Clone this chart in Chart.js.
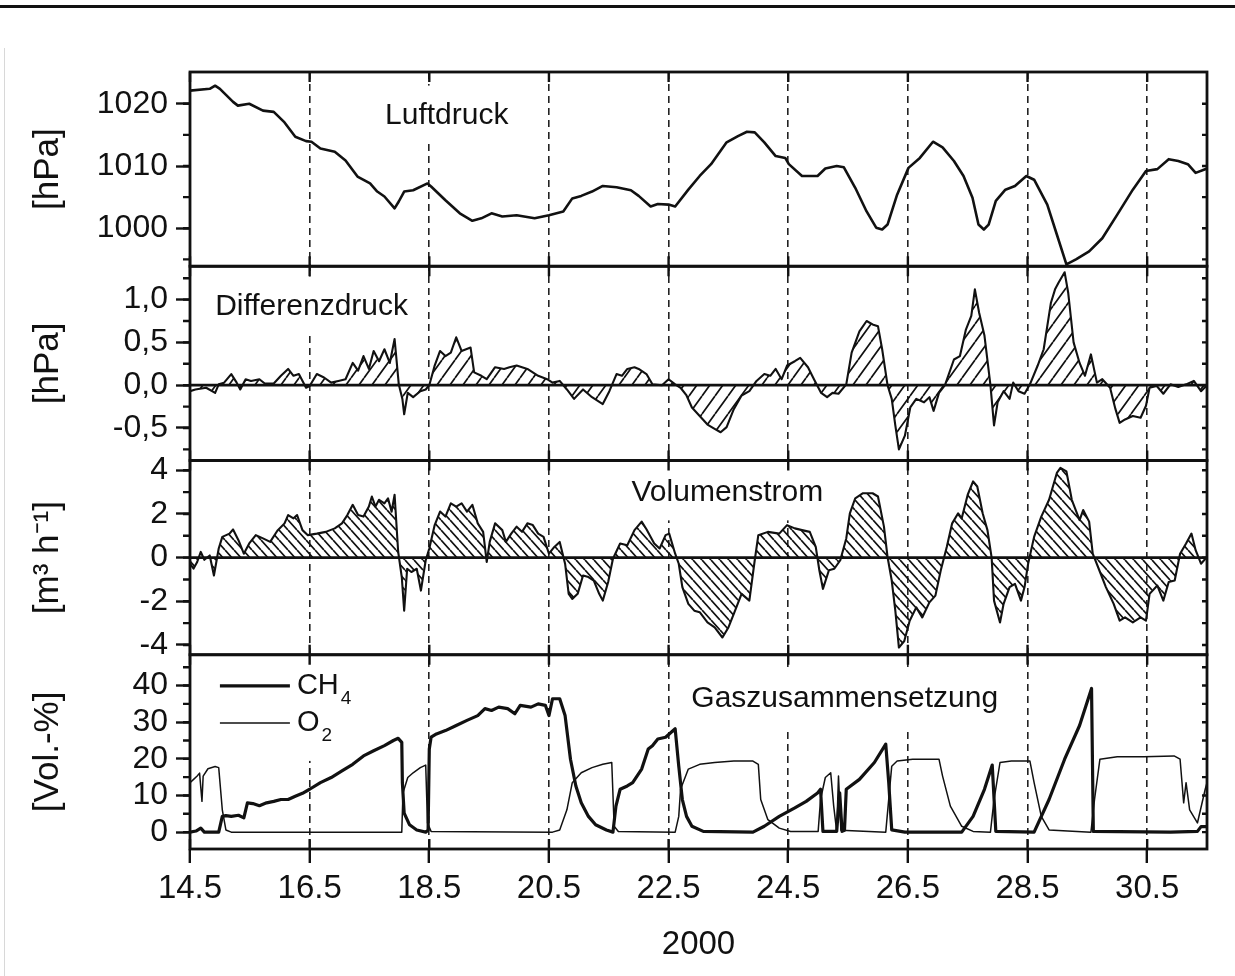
<!DOCTYPE html>
<html lang="de">
<head>
<meta charset="utf-8">
<title>Luftdruck, Differenzdruck, Volumenstrom und Gaszusammensetzung</title>
<script src="https://cdn.jsdelivr.net/npm/chart.js@4.4.1/dist/chart.umd.min.js"></script>
<style>
  html, body { margin: 0; padding: 0; background: #fff; }
  #page { position: relative; width: 1235px; height: 976px; overflow: hidden; background: #fff; }
  #page .rule { position: absolute; left: 0; top: 5px; width: 1235px; height: 3px; background: #111; }
  #page .margin { position: absolute; left: 4px; top: 48px; width: 1px; height: 928px; background: #d8d8d8; }
  #chart { position: absolute; left: 0; top: 0; }
</style>
</head>
<body>
<div id="page">
  <div class="rule"></div>
  <div class="margin"></div>
  <canvas id="chart" width="1235" height="976"></canvas>
</div>
<script>
// ---- Messwerte Mai 2000 (Tag im Monat) ----------------------------------

const dayTicks = [14.5, 16.5, 18.5, 20.5, 22.5, 24.5, 26.5, 28.5, 30.5];

// Luftdruck [hPa]
const pressureDays = [14.5, 14.83, 14.92, 15.0, 15.22, 15.3, 15.49, 15.72, 15.9, 16.08, 16.26, 16.44, 16.53, 16.68, 16.92, 17.1, 17.3, 17.51, 17.63, 17.75, 17.92, 17.99, 18.08, 18.23, 18.47, 18.53, 18.77, 19.01, 19.22, 19.37, 19.54, 19.72, 19.96, 20.26, 20.5, 20.74, 20.89, 21.04, 21.22, 21.4, 21.63, 21.87, 22.0, 22.2, 22.32, 22.5, 22.61, 22.83, 23.02, 23.21, 23.47, 23.66, 23.81, 23.94, 24.1, 24.29, 24.45, 24.51, 24.73, 24.99, 25.12, 25.31, 25.43, 25.62, 25.81, 25.97, 26.07, 26.16, 26.32, 26.51, 26.7, 26.92, 27.08, 27.27, 27.43, 27.58, 27.68, 27.77, 27.85, 27.97, 28.13, 28.29, 28.48, 28.61, 28.83, 28.99, 29.15, 29.31, 29.53, 29.75, 30.0, 30.26, 30.48, 30.67, 30.86, 31.02, 31.18, 31.31, 31.5];
const pressureHPa = [1022.1, 1022.4, 1022.9, 1022.4, 1020.3, 1019.7, 1020.0, 1018.9, 1018.7, 1017.0, 1014.7, 1014.0, 1013.9, 1012.8, 1012.3, 1010.9, 1008.3, 1007.2, 1005.9, 1005.1, 1003.2, 1004.3, 1005.9, 1006.1, 1007.2, 1006.7, 1004.5, 1002.4, 1001.2, 1001.6, 1002.4, 1001.9, 1002.1, 1001.6, 1002.1, 1002.7, 1004.8, 1005.2, 1005.9, 1006.8, 1006.6, 1006.1, 1005.2, 1003.5, 1003.9, 1003.8, 1003.5, 1006.2, 1008.4, 1010.3, 1013.8, 1014.8, 1015.5, 1015.4, 1013.8, 1011.6, 1011.3, 1010.3, 1008.4, 1008.4, 1009.6, 1010.0, 1009.8, 1006.5, 1002.7, 1000.1, 999.8, 1000.6, 1005.4, 1009.7, 1011.3, 1013.9, 1013.0, 1010.8, 1008.4, 1004.9, 1000.6, 999.8, 1000.6, 1004.4, 1006.2, 1006.8, 1008.4, 1007.8, 1003.8, 999.0, 994.2, 995.0, 996.3, 998.4, 1002.2, 1006.2, 1009.2, 1009.5, 1011.1, 1010.8, 1010.3, 1008.9, 1009.6];

// Differenzdruck [hPa]
const diffDays = [14.5, 14.59, 14.77, 14.92, 14.98, 15.07, 15.19, 15.28, 15.34, 15.43, 15.52, 15.66, 15.75, 15.9, 16.02, 16.14, 16.23, 16.32, 16.44, 16.5, 16.62, 16.74, 16.86, 16.98, 17.1, 17.22, 17.31, 17.4, 17.49, 17.57, 17.66, 17.75, 17.84, 17.92, 17.99, 18.05, 18.08, 18.14, 18.23, 18.35, 18.44, 18.5, 18.59, 18.68, 18.77, 18.86, 18.95, 19.04, 19.19, 19.25, 19.37, 19.46, 19.6, 19.75, 19.84, 19.96, 20.14, 20.32, 20.47, 20.56, 20.68, 20.8, 20.92, 21.07, 21.22, 21.4, 21.51, 21.63, 21.72, 21.81, 21.93, 22.0, 22.13, 22.23, 22.39, 22.5, 22.61, 22.7, 22.8, 22.89, 23.02, 23.15, 23.27, 23.37, 23.47, 23.59, 23.72, 23.85, 23.97, 24.1, 24.2, 24.29, 24.39, 24.48, 24.61, 24.7, 24.83, 24.93, 25.05, 25.15, 25.24, 25.34, 25.47, 25.56, 25.69, 25.81, 25.91, 26.0, 26.07, 26.16, 26.23, 26.29, 26.35, 26.45, 26.54, 26.64, 26.77, 26.86, 26.93, 27.02, 27.12, 27.27, 27.37, 27.47, 27.56, 27.62, 27.69, 27.78, 27.88, 27.94, 28.0, 28.1, 28.2, 28.26, 28.35, 28.45, 28.54, 28.67, 28.77, 28.89, 28.96, 29.02, 29.12, 29.18, 29.27, 29.37, 29.46, 29.56, 29.66, 29.75, 29.88, 29.97, 30.04, 30.13, 30.26, 30.39, 30.48, 30.54, 30.66, 30.77, 30.89, 31.02, 31.15, 31.28, 31.4, 31.5];
const diffHPa = [-0.07, -0.05, -0.03, -0.09, 0.01, 0.03, 0.13, 0.03, -0.05, 0.07, 0.05, 0.07, 0.02, 0.02, 0.11, 0.19, 0.11, 0.13, -0.03, -0.01, 0.13, 0.09, 0.03, 0.05, 0.07, 0.26, 0.17, 0.34, 0.19, 0.4, 0.28, 0.42, 0.26, 0.54, 0.01, -0.16, -0.34, -0.09, -0.14, -0.07, -0.05, 0, 0.23, 0.4, 0.34, 0.38, 0.56, 0.4, 0.44, 0.15, 0.11, 0.07, 0.21, 0.19, 0.21, 0.23, 0.19, 0.11, 0.07, 0.03, 0.05, -0.05, -0.16, -0.05, -0.14, -0.22, -0.07, 0.13, 0.11, 0.19, 0.21, 0.19, 0.13, 0.01, 0, 0.07, 0.01, -0.03, -0.12, -0.26, -0.36, -0.46, -0.51, -0.55, -0.49, -0.28, -0.12, -0.07, 0.05, 0.13, 0.11, 0.19, 0.07, 0.23, 0.28, 0.32, 0.21, 0.07, -0.09, -0.14, -0.09, -0.1, 0.01, 0.38, 0.63, 0.75, 0.71, 0.69, 0.42, 0, -0.16, -0.47, -0.75, -0.59, -0.26, -0.16, -0.2, -0.14, -0.3, -0.09, 0, 0.3, 0.34, 0.65, 0.81, 1.12, 0.85, 0.58, 0, -0.47, -0.2, -0.07, -0.16, 0.03, -0.07, -0.1, 0.01, 0.23, 0.42, 0.96, 1.12, 1.2, 1.32, 1.08, 0.5, 0.26, 0.11, 0.36, 0.03, 0.07, -0.03, -0.28, -0.44, -0.4, -0.36, -0.38, -0.24, -0.03, -0.01, -0.1, 0.01, -0.02, 0.01, 0.05, -0.07, 0];

// Volumenstrom [m³/h]
const flowDays = [14.5, 14.56, 14.62, 14.68, 14.74, 14.83, 14.9, 14.98, 15.04, 15.16, 15.22, 15.31, 15.4, 15.49, 15.6, 15.72, 15.84, 15.96, 16.08, 16.14, 16.23, 16.29, 16.38, 16.47, 16.62, 16.77, 16.92, 17.04, 17.13, 17.22, 17.31, 17.4, 17.49, 17.54, 17.6, 17.66, 17.75, 17.81, 17.87, 17.92, 17.98, 18.04, 18.08, 18.13, 18.2, 18.29, 18.36, 18.44, 18.5, 18.59, 18.68, 18.77, 18.86, 18.95, 19.04, 19.13, 19.22, 19.31, 19.4, 19.46, 19.51, 19.6, 19.72, 19.78, 19.87, 19.96, 20.05, 20.14, 20.23, 20.32, 20.41, 20.5, 20.59, 20.68, 20.77, 20.83, 20.89, 20.98, 21.07, 21.16, 21.25, 21.34, 21.4, 21.49, 21.57, 21.69, 21.81, 21.93, 22.05, 22.13, 22.26, 22.35, 22.45, 22.51, 22.61, 22.67, 22.73, 22.83, 22.93, 23.02, 23.15, 23.27, 23.4, 23.5, 23.59, 23.72, 23.85, 23.94, 24.0, 24.16, 24.35, 24.48, 24.61, 24.73, 24.86, 24.96, 25.02, 25.08, 25.18, 25.27, 25.37, 25.47, 25.53, 25.62, 25.75, 25.91, 26.0, 26.1, 26.16, 26.23, 26.29, 26.35, 26.44, 26.53, 26.64, 26.74, 26.86, 26.96, 27.05, 27.15, 27.24, 27.34, 27.4, 27.5, 27.59, 27.66, 27.75, 27.83, 27.9, 27.94, 28.04, 28.1, 28.2, 28.29, 28.39, 28.45, 28.51, 28.61, 28.73, 28.86, 28.99, 29.05, 29.15, 29.24, 29.37, 29.43, 29.53, 29.59, 29.69, 29.81, 29.94, 30.04, 30.13, 30.26, 30.39, 30.48, 30.54, 30.67, 30.77, 30.86, 30.96, 31.05, 31.15, 31.24, 31.31, 31.4, 31.5];
const flowM3h = [-0.28, -0.5, -0.2, 0.26, -0.1, 0.1, -0.82, 0.42, 0.95, 1.1, 1.29, 0.8, 0.18, 0.65, 1.03, 0.88, 0.72, 1.23, 1.57, 1.95, 1.8, 1.95, 1.26, 1.03, 1.1, 1.18, 1.34, 1.57, 1.95, 2.42, 1.95, 1.88, 2.34, 2.8, 2.34, 2.65, 2.49, 2.72, 2.1, 2.88, 0.26, -0.89, -2.43, -0.51, -0.66, -0.51, -1.51, -0.12, 0.42, 1.49, 2.11, 1.88, 2.49, 2.34, 2.49, 2.11, 2.42, 1.57, 1.18, -0.2, 0.72, 1.57, 1.26, 0.72, 1.1, 1.42, 1.18, 1.57, 1.49, 1.1, 0.95, 0.18, 0.49, 0.72, -0.28, -1.66, -1.89, -1.66, -0.82, -0.89, -1.05, -1.66, -1.97, -1.12, -0.05, 0.65, 0.57, 1.26, 1.65, 1.3, 0.65, 0.42, 1.03, 1.1, 0.18, -0.28, -1.35, -2.12, -2.43, -2.5, -2.97, -3.2, -3.66, -3.2, -2.58, -1.66, -1.97, -0.12, 1.03, 1.18, 1.1, 1.49, 1.34, 1.26, 1.18, 0.49, -0.58, -1.43, -0.58, -0.51, -0.12, 0.88, 2.03, 2.72, 2.95, 2.95, 2.8, 1.42, 0.03, -1.05, -2.43, -4.12, -3.82, -2.89, -2.28, -2.74, -2.05, -1.74, -0.58, 0.49, 1.57, 2.03, 1.8, 2.88, 3.49, 3.26, 2.03, 1.26, 0, -1.97, -2.97, -2.12, -1.35, -1.2, -1.97, -1.35, -0.28, 0.95, 1.88, 2.65, 3.88, 4.11, 3.95, 2.65, 1.72, 2.18, 1.65, 0.18, -0.51, -1.35, -2.12, -2.89, -2.74, -2.97, -2.74, -2.89, -1.66, -1.28, -1.97, -1.12, -1.05, 0.18, 0.65, 1.1, 0.34, -0.28, 0.03];

// Gaszusammensetzung [Vol.-%]
const ch4Days = [14.5, 14.6, 14.68, 14.74, 14.98, 15.04, 15.1, 15.19, 15.31, 15.4, 15.46, 15.55, 15.66, 15.78, 15.9, 16.02, 16.14, 16.26, 16.38, 16.5, 16.68, 16.86, 17.04, 17.22, 17.4, 17.57, 17.75, 17.9, 17.98, 18.04, 18.05, 18.08, 18.17, 18.29, 18.44, 18.48, 18.5, 18.53, 18.62, 18.77, 18.95, 19.13, 19.31, 19.43, 19.54, 19.66, 19.81, 19.93, 20.02, 20.2, 20.32, 20.44, 20.5, 20.56, 20.68, 20.77, 20.86, 20.95, 21.04, 21.16, 21.28, 21.46, 21.57, 21.62, 21.69, 21.81, 21.9, 22.05, 22.16, 22.23, 22.32, 22.45, 22.61, 22.67, 22.73, 22.8, 22.89, 23.08, 23.91, 24.1, 24.35, 24.61, 24.8, 24.99, 25.04, 25.08, 25.31, 25.36, 25.4, 25.44, 25.47, 25.69, 25.94, 26.13, 26.18, 26.23, 26.45, 27.4, 27.59, 27.78, 27.91, 27.97, 28.61, 28.86, 29.12, 29.37, 29.57, 29.6, 30.89, 31.34, 31.4, 31.5];
const ch4Pct = [0, 0.3, 1.1, 0, 0, 4.3, 4.5, 4.3, 4.6, 3.9, 8, 7.8, 7.2, 8, 8.4, 8.9, 8.9, 9.8, 10.6, 11.7, 13.5, 14.9, 16.7, 18.5, 20.8, 22.2, 23.6, 25, 25.6, 24.5, 13.5, 5.2, 2, 0.6, 0, 0.5, 22.7, 25.9, 26.8, 27.7, 29.1, 30.5, 31.8, 33.7, 33.2, 34.1, 33.7, 32.3, 34.6, 34.1, 35, 34.6, 31.8, 36.4, 36.4, 31.8, 19.9, 12.6, 8, 4.3, 2, 0.6, 0, 7.1, 11.7, 12.6, 13.5, 17.2, 22.7, 23.6, 25.4, 25.9, 28.2, 18, 8.9, 4.3, 1.6, 0.2, 0, 1.6, 4.3, 6.6, 8.4, 10.7, 11.7, 0.2, 0.2, 10.7, 0.2, 0.5, 11.7, 14.4, 19, 24, 13.5, 0.6, 0, 0, 4.3, 11.7, 18.3, 0.2, 0, 8.9, 19.9, 29.1, 39.2, 0.2, 0, 0.2, 1.5, 1.5];
const o2Days = [14.5, 14.56, 14.62, 14.66, 14.7, 14.72, 14.8, 14.92, 14.98, 15.04, 15.1, 15.19, 18.04, 18.06, 18.14, 18.23, 18.35, 18.44, 18.47, 18.53, 20.56, 20.68, 20.8, 20.89, 21.04, 21.22, 21.4, 21.55, 21.59, 21.66, 22.61, 22.67, 22.7, 22.83, 23.02, 23.27, 23.59, 23.91, 24.0, 24.04, 24.16, 24.35, 24.54, 25.0, 25.04, 25.12, 25.21, 25.26, 25.31, 25.34, 25.38, 26.13, 26.23, 26.32, 26.58, 27.02, 27.08, 27.21, 27.4, 27.59, 27.88, 27.94, 28.04, 28.23, 28.54, 28.61, 28.73, 28.86, 29.56, 29.62, 29.71, 30.0, 30.44, 30.95, 31.05, 31.11, 31.15, 31.21, 31.34, 31.47, 31.5];
const o2Pct = [13.5, 14.4, 15.3, 16.1, 8.4, 15.3, 17.3, 17.9, 17.6, 6.1, 0.6, 0, 0, 10.7, 14.9, 16.2, 17.6, 18.3, 2.5, 0.2, 0, 0.6, 6.1, 13.5, 16.2, 17.6, 18.5, 19, 1.6, 0.2, 0, 4.3, 11.7, 17.2, 18.5, 19, 19.4, 19.4, 18.5, 8.9, 3.4, 1.1, 0.2, 0.2, 8.9, 14.9, 16.2, 7.1, 0.2, 15.3, 0.5, 0, 18, 19.4, 19.9, 19.9, 15.3, 7.1, 1.6, 0.2, 0, 8.9, 19, 19.4, 19.4, 13.5, 4.3, 0.6, 0, 8.9, 19.9, 20.6, 20.6, 20.8, 19.9, 8, 13.5, 6.1, 2.5, 11.7, 13.5];

// Achsenteilung je Feld: alle Striche, davon beschriftet
const pressureTicks = [995, 1000, 1005, 1010, 1015, 1020, 1025];
const pressureLabels = [1000, 1010, 1020];
const diffTicks = [-0.75, -0.5, -0.25, 0, 0.25, 0.5, 0.75, 1.0, 1.25];
const diffLabels = [-0.5, 0, 0.5, 1.0];
const flowTicks = [-4, -3, -2, -1, 0, 1, 2, 3, 4];
const flowLabels = [-4, -2, 0, 2, 4];
const gasTicks = [0, 5, 10, 15, 20, 25, 30, 35, 40, 45];
const gasLabels = [0, 10, 20, 30, 40];

// ---- Darstellung ---------------------------------------------------------

const INK = '#111';
const FONT = "'Liberation Sans', Arial, Helvetica, sans-serif";
Chart.defaults.font.family = FONT;
Chart.defaults.color = INK;

const PLOT_LEFT = 190;
const PLOT_RIGHT = 1207;
const PLOT_TOP = 72;
const PLOT_BOTTOM = 849;

const points = (xs, ys) => xs.map((x, i) => ({ x, y: ys[i] }));

// Schraffur als Füllmuster: w = horizontaler Abstand, h = Höhe einer Periode
function hatch(w, h, rising, lw) {
  const c = document.createElement('canvas');
  c.width = w; c.height = h;
  const g = c.getContext('2d');
  g.strokeStyle = INK;
  g.lineWidth = lw;
  g.beginPath();
  for (const k of [-1, 0, 1]) {
    if (rising) { g.moveTo(k * w, h); g.lineTo(k * w + w, 0); }
    else        { g.moveTo(k * w, 0); g.lineTo(k * w + w, h); }
  }
  g.stroke();
  return g.createPattern(c, 'repeat');
}

const commaFmt = (v) => v.toFixed(1).replace('.', ',');

function panelAxis({ min, max, ticks, labels, fmt, title, weight }) {
  return {
    type: 'linear',
    position: 'left',
    stack: 'panels',
    stackWeight: 1,
    weight,
    min, max,
    afterBuildTicks: (s) => { s.ticks = ticks.map((value) => ({ value })); },
    afterFit: (s) => { s.width = PLOT_LEFT; },
    ticks: {
      autoSkip: false,
      padding: 8,
      font: { size: 32 },
      color: INK,
      callback: (v) => (labels.includes(v) ? fmt(v) : ''),
    },
    grid: {
      drawOnChartArea: false,
      tickLength: 14,
      tickWidth: 2.4,
      tickColor: (ctx) => (ctx.tick && labels.includes(ctx.tick.value) ? INK : 'rgba(0,0,0,0)'),
    },
    border: { display: false },
    title: {
      display: true,
      text: title,
      color: INK,
      font: { size: 35 },
      padding: { top: 27, bottom: 0 },
    },
  };
}

// Feldbeschriftungen auf weißem Grund (verdecken die Gitterlinien)
const panelNotes = [
  { axis: 'yP', day: 17.76, value: 1018.1, text: 'Luftdruck' },
  { axis: 'yD', day: 14.92, value: 0.92, text: 'Differenzdruck' },
  { axis: 'yV', day: 21.88, value: 2.99, text: 'Volumenstrom' },
  { axis: 'yG', day: 22.88, value: 36.3, text: 'Gaszusammensetzung' },
];

const panelLabels = {
  id: 'panelLabels',
  beforeDatasetsDraw(chart) {
    const { ctx, scales } = chart;
    const x = scales.x;
    ctx.save();
    ctx.font = `30px ${FONT}`;
    ctx.textBaseline = 'middle';
    panelNotes.forEach((n) => {
      const px = x.getPixelForValue(n.day);
      const py = scales[n.axis].getPixelForValue(n.value);
      const w = ctx.measureText(n.text).width;
      ctx.fillStyle = '#fff';
      ctx.fillRect(px - 6, py - 30, w + 12, 58);
      ctx.fillStyle = INK;
      ctx.fillText(n.text, px, py);
    });

    // Legende CH4 / O2
    const g = scales.yG;
    const entries = [
      { ds: chart.data.datasets[3], value: 39.9, main: 'CH', sub: '4' },
      { ds: chart.data.datasets[4], value: 29.8, main: 'O', sub: '2' },
    ];
    const x0 = x.getPixelForValue(15.0);
    const x1 = x.getPixelForValue(16.17);
    ctx.fillStyle = '#fff';
    ctx.fillRect(x0 - 8, g.top + 4, 150, g.getPixelForValue(29.8) + 38 - g.top - 4);
    entries.forEach((e) => {
      const py = g.getPixelForValue(e.value);
      ctx.strokeStyle = INK;
      ctx.lineWidth = e.ds.borderWidth;
      ctx.beginPath();
      ctx.moveTo(x0, py);
      ctx.lineTo(x1, py);
      ctx.stroke();
      ctx.fillStyle = INK;
      ctx.font = `29px ${FONT}`;
      ctx.fillText(e.main, x1 + 7, py);
      const mw = ctx.measureText(e.main).width;
      ctx.font = `19px ${FONT}`;
      ctx.fillText(e.sub, x1 + 9 + mw, py + 13);
    });
    ctx.restore();
  },
};

// Rahmen, Nebenstriche und Nulllinien der einzelnen Felder
const panelFrame = {
  id: 'panelFrame',
  afterDatasetsDraw(chart) {
    const { ctx, chartArea: { left, right }, scales } = chart;
    const x = scales.x;
    ctx.save();
    ctx.strokeStyle = INK;
    ['yP', 'yD', 'yV', 'yG'].forEach((id) => {
      const s = scales[id];
      ctx.lineWidth = 2.4;
      ctx.beginPath();
      s.ticks.forEach((t) => {
        const py = s.getPixelForValue(t.value);
        if (py < s.top + 2 || py > s.bottom - 2) return;
        ctx.moveTo(left - 7, py); ctx.lineTo(left, py);
        ctx.moveTo(right, py); ctx.lineTo(right - 5, py);
      });
      x.ticks.forEach((t) => {
        const px = x.getPixelForValue(t.value);
        ctx.moveTo(px, s.top); ctx.lineTo(px, s.top + 10);
        ctx.moveTo(px, s.bottom); ctx.lineTo(px, s.bottom - 10);
      });
      ctx.stroke();
      ctx.lineWidth = 2.8;
      ctx.strokeRect(left, s.top, right - left, s.bottom - s.top);
    });
    ['yD', 'yV'].forEach((id) => {
      const py = scales[id].getPixelForValue(0);
      ctx.lineWidth = 2.8;
      ctx.beginPath();
      ctx.moveTo(left, py);
      ctx.lineTo(right, py);
      ctx.stroke();
    });
    ctx.restore();
  },
};

const line = (label, xs, ys, axis, width, extra = {}) => ({
  label,
  data: points(xs, ys),
  yAxisID: axis,
  borderColor: INK,
  borderWidth: width,
  pointRadius: 0,
  fill: false,
  ...extra,
});

new Chart(document.getElementById('chart'), {
  type: 'line',
  data: {
    datasets: [
      line('Luftdruck', pressureDays, pressureHPa, 'yP', 2.6),
      line('Differenzdruck', diffDays, diffHPa, 'yD', 2.1, { fill: 'origin', backgroundColor: hatch(13, 18, true, 1.7) }),
      line('Volumenstrom', flowDays, flowM3h, 'yV', 2.1, { fill: 'origin', backgroundColor: hatch(9, 10, false, 1.7) }),
      line('CH4', ch4Days, ch4Pct, 'yG', 3.2),
      line('O2', o2Days, o2Pct, 'yG', 1.5),
    ],
  },
  options: {
    responsive: false,
    animation: false,
    devicePixelRatio: 1,
    layout: { padding: { left: 0, right: 1235 - PLOT_RIGHT, top: PLOT_TOP, bottom: 0 } },
    plugins: { legend: { display: false }, tooltip: { enabled: false } },
    elements: { line: { tension: 0, borderJoinStyle: 'round' } },
    scales: {
      x: {
        type: 'linear',
        position: 'bottom',
        min: 14.5,
        max: 31.5,
        afterBuildTicks: (s) => { s.ticks = dayTicks.map((value) => ({ value })); },
        afterFit: (s) => { s.height = 976 - PLOT_BOTTOM; },
        ticks: {
          autoSkip: false,
          maxRotation: 0,
          padding: 6,
          font: { size: 33 },
          color: INK,
          callback: (v) => v.toFixed(1),
        },
        grid: {
          color: (ctx) => (ctx.tick && ctx.tick.value === 14.5 ? 'rgba(0,0,0,0)' : '#222'),
          lineWidth: 1.6,
          tickLength: 14,
          tickWidth: 2.4,
          tickColor: INK,
        },
        border: { display: false, dash: [7, 5] },
        title: {
          display: true,
          text: '2000',
          color: INK,
          font: { size: 33 },
          padding: { top: 0, bottom: 11 },
        },
      },
      yP: panelAxis({ min: 993.9, max: 1025.1, ticks: pressureTicks, labels: pressureLabels, fmt: String, title: '[hPa]', weight: 4 }),
      yD: panelAxis({ min: -0.88, max: 1.39, ticks: diffTicks, labels: diffLabels, fmt: commaFmt, title: '[hPa]', weight: 3 }),
      yV: panelAxis({ min: -4.45, max: 4.45, ticks: flowTicks, labels: flowLabels, fmt: String, title: '[m³ h⁻¹]', weight: 2 }),
      yG: panelAxis({ min: -4.6, max: 48.4, ticks: gasTicks, labels: gasLabels, fmt: String, title: '[Vol.-%]', weight: 1 }),
    },
  },
  plugins: [panelLabels, panelFrame],
});
</script>
</body>
</html>
